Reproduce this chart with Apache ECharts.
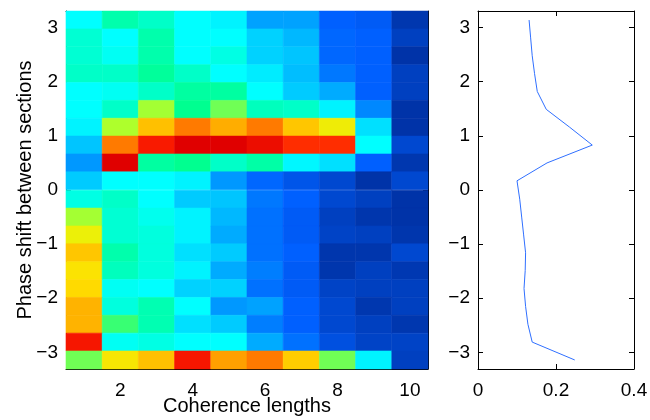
<!DOCTYPE html>
<html>
<head>
<meta charset="utf-8">
<script src="https://cdn.jsdelivr.net/npm/echarts@6/dist/echarts.min.js"></script>
<style>
  html, body { margin: 0; padding: 0; background: #fff; }
  #chart { width: 650px; height: 420px; }
</style>
</head>
<body>
<div id="chart"></div>
<script>
// phase bin centres, top row first
const phases = [3.14, 2.81, 2.48, 2.15, 1.82, 1.49, 1.16, 0.83, 0.50, 0.17,
                -0.17, -0.50, -0.83, -1.16, -1.49, -1.82, -2.15, -2.48, -2.81, -3.14];
const lengths = [1, 2, 3, 4, 5, 6, 7, 8, 9, 10];
// colour level of each cell, rows top to bottom
const heat = [
  [8.0, 9.5, 9.0, 8.0, 7.7, 5.3, 5.3, 3.0, 2.7, 0.3],
  [8.8, 8.0, 9.5, 8.0, 8.0, 6.8, 6.0, 3.3, 3.0, 1.0],
  [8.8, 8.2, 9.5, 8.0, 8.5, 6.8, 6.4, 3.3, 3.0, 0.0],
  [9.0, 9.0, 9.8, 9.0, 8.0, 7.5, 6.2, 4.0, 3.0, 1.0],
  [8.0, 8.2, 9.0, 9.7, 9.7, 8.0, 6.6, 5.6, 3.0, 1.0],
  [8.0, 9.0, 11.5, 10.0, 11.0, 9.2, 9.0, 7.7, 4.5, 0.0],
  [7.7, 11.6, 13.5, 14.3, 13.8, 14.3, 13.4, 12.6, 7.2, 0.0],
  [6.4, 14.3, 15.2, 16.0, 16.0, 15.6, 14.9, 14.9, 8.0, 1.5],
  [5.0, 16.0, 9.7, 10.0, 9.0, 9.6, 7.8, 7.2, 3.0, 0.3],
  [6.6, 8.0, 8.0, 7.7, 5.0, 3.3, 2.3, 1.5, 0.0, 1.5],
  [8.5, 9.0, 8.0, 6.6, 6.4, 4.0, 3.0, 1.5, 1.0, 0.0],
  [11.5, 8.8, 8.3, 7.7, 6.0, 3.7, 2.7, 1.0, 0.2, 0.0],
  [12.5, 8.8, 8.6, 7.7, 5.6, 3.7, 2.7, 1.2, 1.0, 0.2],
  [13.4, 9.5, 8.6, 7.2, 6.6, 3.7, 3.0, 0.2, 0.2, 1.5],
  [12.9, 9.2, 8.6, 7.7, 5.6, 4.2, 2.7, 0.2, 1.0, 0.4],
  [13.1, 8.2, 8.0, 6.8, 6.8, 3.7, 2.7, 1.2, 1.0, 1.0],
  [13.7, 8.6, 9.4, 8.0, 5.0, 5.3, 3.0, 1.5, 0.3, 1.0],
  [13.7, 10.5, 9.4, 7.2, 6.6, 4.2, 3.0, 1.5, 1.0, 0.3],
  [15.3, 8.2, 8.5, 8.0, 8.0, 5.6, 3.7, 2.0, 1.2, 1.2],
  [11.0, 12.8, 13.5, 15.3, 14.0, 14.3, 13.3, 11.0, 7.7, 1.0]
];
// right panel profile, rows top to bottom
const profile = [0.131, 0.135, 0.139, 0.145, 0.152, 0.175, 0.235, 0.293, 0.177, 0.100,
                 0.107, 0.112, 0.117, 0.122, 0.121, 0.118, 0.122, 0.128, 0.139, 0.248];
const xTicks = [2, 4, 6, 8, 10];
const yTicks = [-3, -2, -1, 0, 1, 2, 3];
const jet = ['#0033a8', '#0040c0', '#0050e0', '#0060ff', '#0078ff', '#0098ff', '#00b8ff',
             '#00d8ff', '#00ffff', '#00ffc8', '#00ff90', '#70ff55', '#d8ff10', '#ffe000',
             '#ffa000', '#ff2000', '#e00000'];

const cells = [];
heat.forEach((row, r) => row.forEach((v, c) => cells.push([lengths[c], phases[r], v])));
const rowH = 0.3307;
const yMin = -3.307, yMax = 3.307;

const font = 'Liberation Sans';
const tickSize = 19, nameSize = 20;
const minus = v => (v < 0 ? '\u2212' + (-v) : String(v));
const line = { show: true, onZero: false, lineStyle: { color: '#000', width: 1 } };
const tick = vals => ({ inside: true, length: 5, customValues: vals, lineStyle: { color: '#000' } });

function axisX(grid, pos, opts) {
  return Object.assign({
    type: 'value', gridIndex: grid, position: pos,
    axisLine: line, splitLine: { show: false },
    axisTick: { inside: true, length: 5, lineStyle: { color: '#000' } },
    axisLabel: { show: pos === 'bottom', color: '#000', fontSize: tickSize, fontFamily: font, margin: 12 }
  }, opts);
}

const chart = echarts.init(document.getElementById('chart'));
chart.setOption({
  animation: false,
  textStyle: { fontFamily: font },
  grid: [
    { left: 66, right: 222, top: 11, bottom: 51, outerBoundsMode: 'none', containLabel: false },
    { left: 478, right: 16, top: 11, bottom: 51, outerBoundsMode: 'none', containLabel: false }
  ],
  xAxis: [
    axisX(0, 'bottom', {
      min: 0.5, max: 10.5, axisTick: tick(xTicks),
      axisLabel: { color: '#000', fontSize: tickSize, fontFamily: font, margin: 12, customValues: xTicks },
      name: 'Coherence lengths', nameLocation: 'middle', nameGap: 27, nameMoveOverlap: false,
      nameTextStyle: { color: '#000', fontSize: nameSize, fontFamily: font }
    }),
    axisX(0, 'top', { min: 0.5, max: 10.5, axisTick: tick(xTicks), axisLabel: { show: false } }),
    axisX(1, 'bottom', { min: 0, max: 0.4, interval: 0.2 }),
    axisX(1, 'top', { min: 0, max: 0.4, interval: 0.2, axisLabel: { show: false } })
  ],
  yAxis: [0, 1].flatMap(g => ['left', 'right'].map(pos => ({
    type: 'value', gridIndex: g, position: pos, min: yMin, max: yMax,
    axisLine: line, splitLine: { show: false },
    axisTick: tick(yTicks),
    axisLabel: {
      show: pos === 'left', customValues: yTicks, formatter: minus,
      color: '#000', fontSize: tickSize, fontFamily: font, margin: 8
    },
    name: g === 0 && pos === 'left' ? 'Phase shift between sections' : '',
    nameLocation: 'middle', nameGap: 31, nameMoveOverlap: false,
    nameTextStyle: { color: '#000', fontSize: nameSize, fontFamily: font }
  }))),
  visualMap: {
    show: false, type: 'continuous', seriesIndex: 0, dimension: 2,
    min: 0, max: 16, inRange: { color: jet }
  },
  series: [
    {
      type: 'custom', xAxisIndex: 0, yAxisIndex: 0, data: cells,
      encode: { x: 0, y: 1 },
      renderItem: (params, api) => {
        const x = api.value(0), y = api.value(1);
        const p0 = api.coord([x - 0.5, y + rowH / 2]);
        const p1 = api.coord([x + 0.5, y - rowH / 2]);
        const color = api.visual('color');
        return {
          type: 'rect',
          shape: { x: p0[0], y: p0[1], width: p1[0] - p0[0], height: p1[1] - p0[1] },
          style: { fill: color, stroke: color, lineWidth: 0.6 }
        };
      }
    },
    {
      type: 'line', xAxisIndex: 2, yAxisIndex: 2,
      data: profile.map((v, i) => [v, phases[i]]),
      symbol: 'none', lineStyle: { color: '#2f6fff', width: 1 }
    }
  ]
});
</script>
</body>
</html>
